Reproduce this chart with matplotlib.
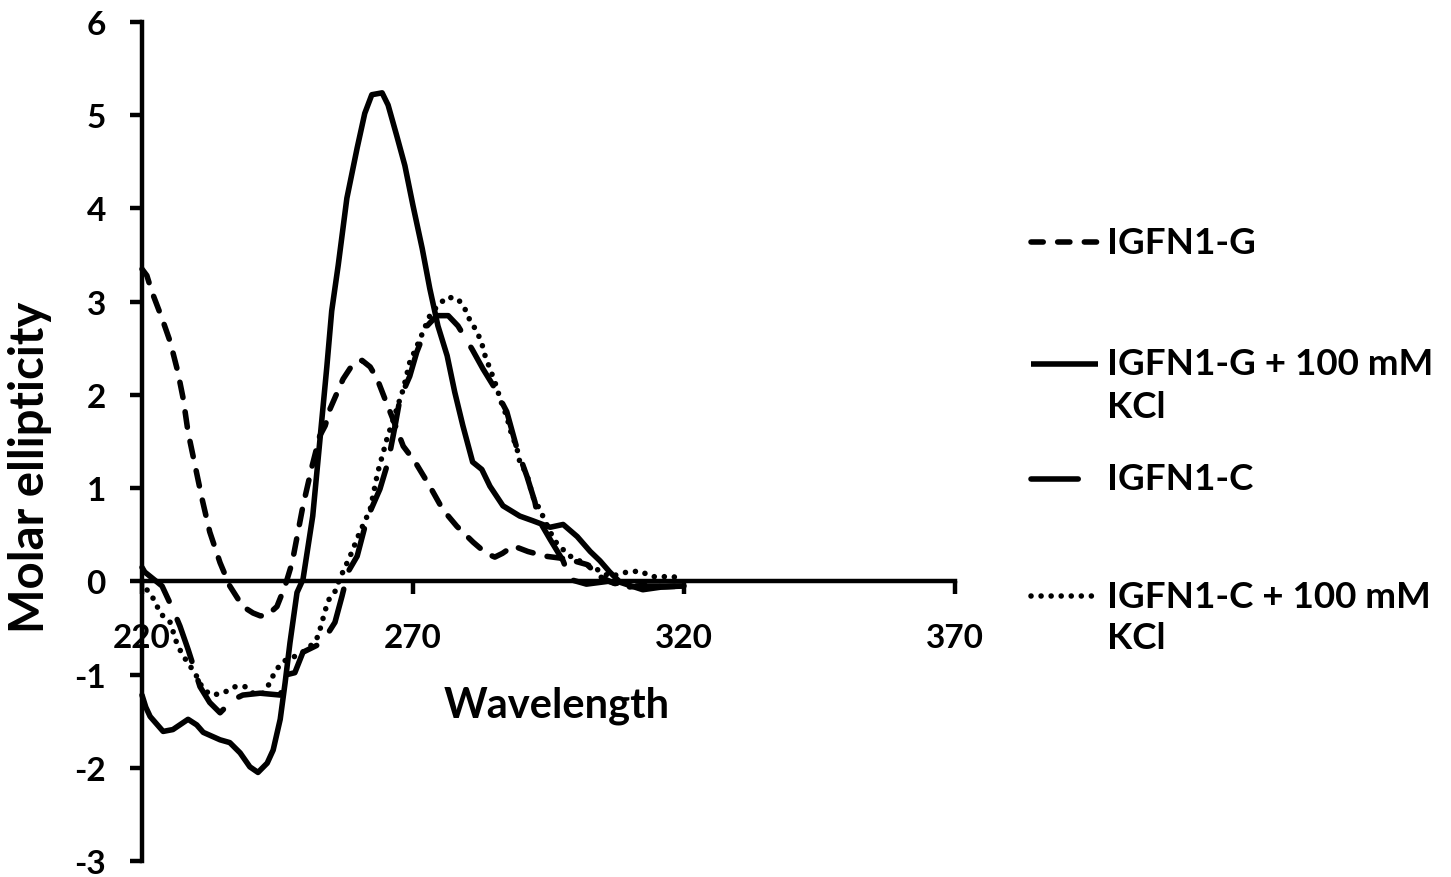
import matplotlib
matplotlib.use("Agg")
import matplotlib.pyplot as plt
from matplotlib.lines import Line2D

# ---------------- data ----------------
wl_g = [220, 220.9, 221.8, 223.7, 225.2, 226.6, 227.6, 228.5, 229.8, 231.1, 232.5, 234.4, 236.2,
        238.6, 240.5, 241.8, 243.0, 244.9, 246.4, 247.7, 249.7, 251.4, 252.8, 253.8, 254.7, 257.1,
        258.9, 260.6, 262.1, 263.4, 264.8, 266.3, 268.2, 270.4, 273.1, 275.5, 278.1, 281.1, 283.5,
        285.1, 286.5, 288.5, 291.2, 294.4, 298.4, 302.1, 304.5, 307, 310, 313, 316, 320]
val_g = [3.35, 3.28, 3.11, 2.82, 2.57, 2.25, 1.96, 1.60, 1.24, 0.88, 0.53, 0.20, -0.05,
         -0.27, -0.34, -0.37, -0.37, -0.27, -0.05, 0.20, 0.81, 1.24, 1.56, 1.67, 1.85, 2.17,
         2.33, 2.37, 2.30, 2.17, 1.96, 1.74, 1.45, 1.28, 1.02, 0.77, 0.59, 0.42, 0.30,
         0.26, 0.30, 0.38, 0.32, 0.27, 0.24, 0.18, 0.05, -0.02, -0.06, -0.04, -0.06, -0.05]

wl_gk = [220, 220.7, 221.5, 223.9, 225.7, 228.5, 230.1, 231.3, 234.4, 236.2, 238.1, 239.9, 241.4,
         243.1, 244.2, 245.5, 246.4, 247.3, 248.6, 249.7, 251.5, 252.8, 254.1, 255.0, 256.2, 257.8,
         259.7, 261.1, 262.4, 264.3, 265.4, 267.0, 268.5, 270.0, 271.7, 273.1, 274.6, 276.3, 277.7,
         279.2, 281.0, 282.7, 284.2, 286.6, 289.7, 292.1, 295.3, 297.7, 300.3, 302.7, 304.5, 306.3,
         308.2, 312.4, 316.0, 320.0]
val_gk = [-1.22, -1.35, -1.45, -1.61, -1.59, -1.48, -1.54, -1.62, -1.70, -1.73, -1.84, -1.99, -2.05,
          -1.95, -1.81, -1.48, -1.09, -0.66, -0.12, 0.02, 0.70, 1.50, 2.30, 2.90, 3.39, 4.11,
          4.65, 5.02, 5.22, 5.24, 5.11, 4.78, 4.46, 4.03, 3.57, 3.14, 2.74, 2.42, 2.03,
          1.67, 1.28, 1.20, 1.02, 0.81, 0.70, 0.65, 0.58, 0.61, 0.48, 0.32, 0.22, 0.10,
          -0.01, -0.09, -0.06, -0.05]

wl_c = [220, 220.5, 223.7, 225.7, 227.0, 228.5, 230.7, 232.5, 234.4, 236.8, 238.6, 241.8, 245.5,
        246.8, 248.2, 249.7, 253.2, 255.6, 256.9, 258.0, 259.7, 261.5, 263.9, 265.4, 266.7, 267.6,
        269.4, 270.7, 272.6, 274.4, 276.5, 278.3, 280.9, 282.9, 284.8, 287.3, 289.2, 291.0, 292.5,
        293.1, 295.3, 297.7, 299.0, 302, 306, 310, 315, 320]
val_c = [0.15, 0.10, -0.05, -0.30, -0.48, -0.73, -1.13, -1.30, -1.41, -1.27, -1.22, -1.20, -1.22,
         -1.00, -0.98, -0.76, -0.66, -0.44, -0.16, 0.10, 0.27, 0.67, 0.99, 1.28, 1.67, 1.96,
         2.20, 2.46, 2.74, 2.85, 2.85, 2.74, 2.49, 2.28, 2.10, 1.82, 1.42, 1.13, 0.85,
         0.67, 0.45, 0.22, 0.02, -0.03, 0.00, -0.05, -0.05, -0.05]

wl_ck = [220, 220.9, 222.4, 223.3, 225.2, 226.5, 227.6, 228.9, 230.1, 231.3, 232.9, 234.9, 237.2,
         239.0, 240.5, 242.3, 243.6, 244.5, 246.0, 249.2, 251.0, 252.5, 253.2, 254.3, 255.6, 256.5,
         258.4, 260.2, 262.1, 263.5, 265.2, 267.0, 268.2, 269.4, 271.3, 273.1, 274.6, 276.3, 278.3,
         279.6, 280.5, 281.8, 282.7, 283.3, 284.2, 285.1, 285.7, 286.4, 287.3, 287.9, 289.2, 289.7,
         291.0, 292.1, 293.4, 295.3, 296.6, 299.0, 301.4, 303.9, 306.3, 309.5, 311.9, 314.1, 316.1,
         318.0, 320.0]
val_ck = [0.00, -0.09, -0.21, -0.34, -0.44, -0.68, -0.80, -0.91, -1.02, -1.16, -1.22, -1.20, -1.13,
          -1.13, -1.20, -1.20, -1.09, -0.97, -0.86, -0.78, -0.70, -0.59, -0.44, -0.21, -0.11, 0.03,
          0.27, 0.53, 0.77, 1.17, 1.53, 1.85, 2.06, 2.35, 2.60, 2.85, 2.96, 3.05, 3.03,
          2.92, 2.80, 2.68, 2.55, 2.42, 2.28, 2.14, 2.03, 1.90, 1.77, 1.63, 1.42, 1.28,
          1.15, 0.91, 0.77, 0.53, 0.40, 0.27, 0.20, 0.13, 0.05, 0.10, 0.11, 0.05, 0.05,
          0.05, 0.02]

labels = ["IGFN1-G", "IGFN1-G + 100 mM\nKCl", "IGFN1-C", "IGFN1-C + 100 mM\nKCl"]
x_ticks = [220, 270, 320, 370]
y_ticks = [-3, -2, -1, 0, 1, 2, 3, 4, 5, 6]

# ---------------- figure ----------------
W, H = 1451, 878
fig = plt.figure(figsize=(W / 100, H / 100), dpi=100)
FONT = "Lato"
plt.rcParams["font.family"] = [FONT, "DejaVu Sans"]
plt.rcParams["font.weight"] = "bold"

ax = fig.add_axes([142 / W, 16 / H, 813 / W, 839 / H])
ax.set_xlim(220, 370)
ax.set_ylim(-3, 6)

LW = 4.0
styles = [
    dict(linestyle=(0, (2.8, 2.6)), dash_capstyle="round"),
    dict(linestyle="-", solid_capstyle="round"),
    dict(linestyle=(0, (8.0, 3.6)), dash_capstyle="round"),
    dict(linestyle=(0, (0.01, 1.8)), dash_capstyle="round"),
]
series = [(wl_g, val_g), (wl_gk, val_gk), (wl_c, val_c), (wl_ck, val_ck)]
for (x, y), st, lab in zip(series, styles, labels):
    ax.plot(x, y, color="black", lw=LW, solid_joinstyle="round", clip_on=False, **st)

for s in ["top", "right"]:
    ax.spines[s].set_visible(False)
ax.spines["bottom"].set_position(("data", 0))
ax.spines["left"].set_linewidth(3.2)
ax.spines["bottom"].set_linewidth(3.2)
ax.set_xticks(x_ticks)
ax.set_yticks(y_ticks)
ax.set_xticklabels([str(v) for v in x_ticks])
ax.set_yticklabels([str(v) for v in y_ticks])
ax.tick_params(axis="x", direction="out", length=9, width=3.2, pad=21, labelsize=24)
ax.tick_params(axis="y", direction="out", length=9, width=3.2, pad=17, labelsize=24)
for t in ax.get_xticklabels() + ax.get_yticklabels():
    t.set_fontweight("bold")

def fx(px):
    return px / W

def fy(py):
    return 1 - py / H

fig.text(fx(557), fy(706), "Wavelength", ha="center", va="center", fontsize=30, fontweight="bold")
fig.text(fx(30), fy(467), "Molar ellipticity", ha="center", va="center", rotation=90,
         fontsize=34, fontweight="bold")

# ---------------- legend ----------------
leg_y = [243, 365, 480, 597]
leg_styles = [
    dict(linestyle=(0, (2.2, 2.6)), dash_capstyle="round"),
    dict(linestyle="-", solid_capstyle="butt"),
    dict(linestyle=(0, (8.5, 8.0)), dash_capstyle="round"),
    dict(linestyle=(0, (0.01, 1.8)), dash_capstyle="round"),
]
for yy, st, lab in zip(leg_y, leg_styles, labels):
    fig.add_artist(Line2D([fx(1031), fx(1098)], [fy(yy), fy(yy)], color="black", lw=LW, **st))
    lines = lab.split("\n")
    for i, ln in enumerate(lines):
        fig.text(fx(1107), fy(yy + 42 * i), ln, ha="left", va="center", fontsize=26.5,
                 fontweight="bold")

fig.savefig("out.png", dpi=100)
